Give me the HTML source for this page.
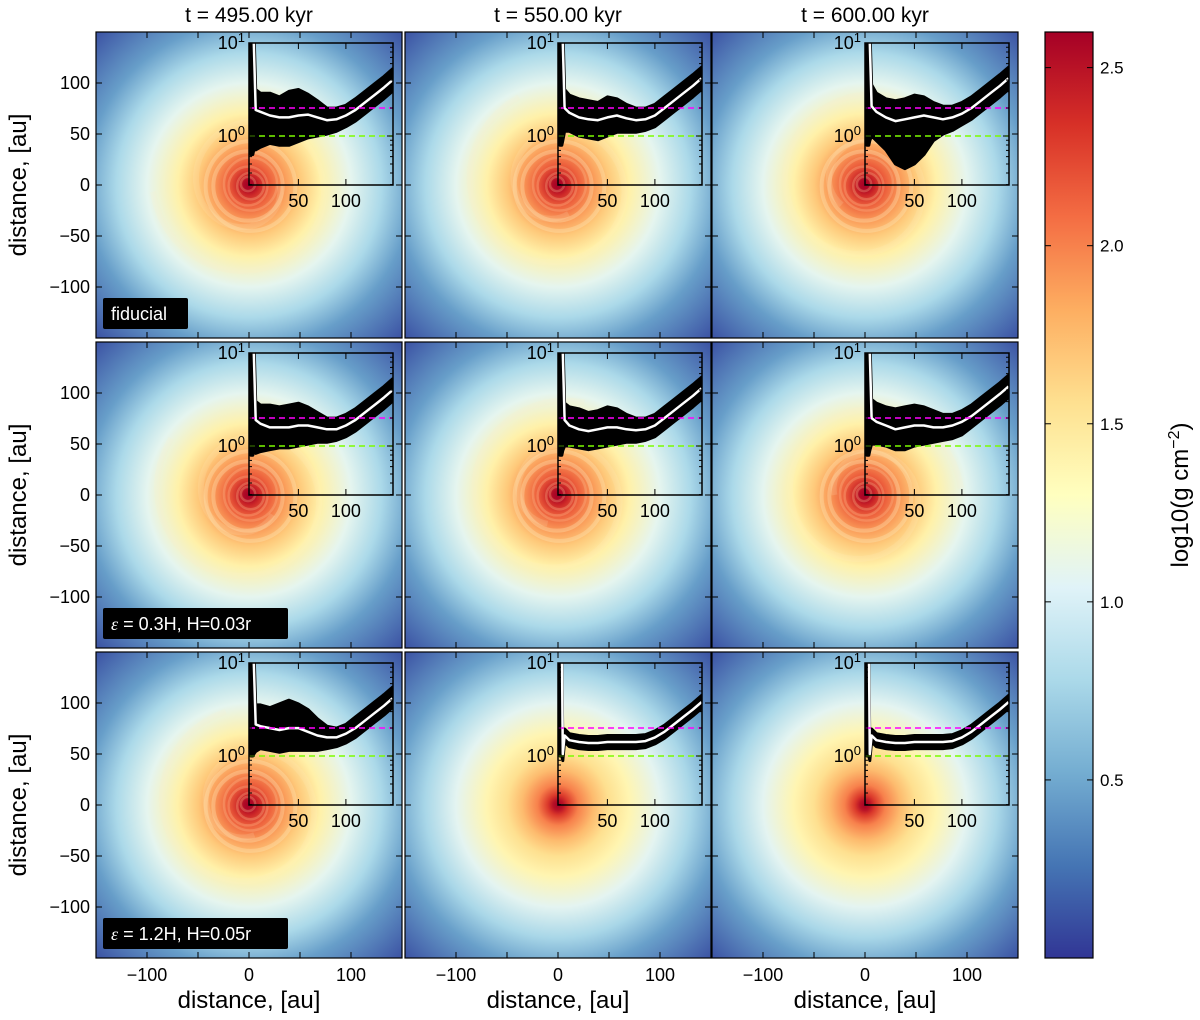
<!DOCTYPE html>
<html><head><meta charset="utf-8">
<style>
html,body{margin:0;padding:0;background:#fff;}
svg{display:block;font-family:"Liberation Sans","DejaVu Sans",sans-serif;}
</style></head>
<body>
<svg id="fig" width="1200" height="1020" viewBox="0 0 1200 1020" xmlns="http://www.w3.org/2000/svg">
<defs id="defs"></defs>
<g id="root"></g>
</svg>
<script>
// ---- data ----
const titles = ["t = 495.00 kyr","t = 550.00 kyr","t = 600.00 kyr"];
const axisTicks = [-100,-50,0,50,100];
const axisTickLabels = ["\u2212100","\u221250","0","50","100"];
const xTickLabelVals = [-100,0,100];
const cbTicks = [0.5,1.0,1.5,2.0,2.5];
const cbMin = 0, cbMax = 2.6;
const insetXTicks = [50,100];
const magentaLevel = Math.log10(2);
const greenLevel = 0;
const panelLabels = ["fiducial","","","\u03b5 = 0.3H, H=0.03r","","","\u03b5 = 1.2H, H=0.05r","",""];
const profR = [0,5,10,20,35,50,70,100,130,160,215];
const profTurb = [2.6,2.55,2.4,2.15,1.9,1.68,1.42,1.08,0.78,0.45,0.1];
const profSmooth = [2.6,2.5,2.3,2.0,1.75,1.56,1.38,1.07,0.77,0.46,0.1];
const rs = [0,2,3,5,10,20,30,40,50,60,70,80,90,100,110,120,130,140,149];
const mean0 = [1.3,1.2,1.0,0.28,0.26,0.22,0.2,0.2,0.22,0.23,0.2,0.17,0.18,0.22,0.28,0.36,0.44,0.52,0.6];
const hi0 = [1.3,1.3,1.2,0.5,0.46,0.46,0.42,0.48,0.5,0.45,0.38,0.3,0.3,0.33,0.4,0.48,0.56,0.64,0.72];
const lo0 = [-0.2,-0.2,-0.15,-0.15,-0.12,-0.08,-0.1,-0.1,-0.06,-0.02,0.0,0.02,0.05,0.1,0.16,0.24,0.32,0.4,0.48];
const mean1 = [1.3,1.2,1.0,0.3,0.25,0.2,0.18,0.17,0.2,0.22,0.19,0.17,0.18,0.22,0.3,0.38,0.46,0.54,0.62];
const hi1 = [1.3,1.3,1.2,0.5,0.44,0.4,0.38,0.36,0.42,0.4,0.34,0.3,0.3,0.34,0.42,0.5,0.58,0.66,0.74];
const lo1 = [-0.1,-0.1,-0.05,0.05,0.05,0.0,-0.02,-0.04,0.0,0.04,0.04,0.04,0.06,0.1,0.18,0.26,0.34,0.42,0.5];
const mean2 = [1.3,1.2,1.0,0.32,0.26,0.2,0.16,0.18,0.2,0.22,0.2,0.18,0.2,0.24,0.3,0.38,0.46,0.54,0.62];
const hi2 = [1.3,1.3,1.2,0.55,0.46,0.4,0.38,0.4,0.44,0.42,0.36,0.32,0.32,0.36,0.42,0.5,0.58,0.66,0.74];
const lo2 = [-0.1,-0.1,-0.05,0.0,-0.05,-0.15,-0.3,-0.35,-0.3,-0.2,-0.05,0.02,0.06,0.12,0.18,0.26,0.34,0.42,0.5];
const mean3 = [1.3,1.2,1.0,0.28,0.24,0.2,0.2,0.2,0.22,0.22,0.2,0.18,0.18,0.22,0.28,0.36,0.44,0.52,0.6];
const hi3 = [1.3,1.3,1.2,0.48,0.44,0.44,0.42,0.44,0.46,0.42,0.36,0.3,0.3,0.34,0.4,0.48,0.56,0.64,0.72];
const lo3 = [-0.1,-0.1,-0.05,-0.08,-0.06,-0.04,-0.02,-0.02,0.0,0.02,0.04,0.04,0.06,0.1,0.16,0.24,0.32,0.4,0.48];
const mean4 = [1.3,1.2,1.0,0.28,0.22,0.18,0.16,0.18,0.2,0.2,0.18,0.17,0.18,0.22,0.3,0.38,0.46,0.54,0.62];
const hi4 = [1.3,1.3,1.2,0.46,0.42,0.4,0.36,0.38,0.42,0.4,0.34,0.3,0.3,0.34,0.42,0.5,0.58,0.66,0.74];
const lo4 = [-0.1,-0.1,-0.05,0.0,0.0,-0.02,-0.04,-0.02,0.0,0.02,0.04,0.04,0.06,0.1,0.18,0.26,0.34,0.42,0.5];
const mean5 = [1.3,1.2,1.0,0.3,0.26,0.22,0.18,0.2,0.22,0.22,0.2,0.2,0.22,0.26,0.32,0.4,0.48,0.56,0.64];
const hi5 = [1.3,1.3,1.2,0.5,0.46,0.42,0.4,0.42,0.44,0.42,0.38,0.34,0.34,0.38,0.44,0.52,0.6,0.68,0.76];
const lo5 = [-0.1,-0.1,-0.05,0.02,0.02,0.0,-0.04,-0.04,0.0,0.02,0.04,0.06,0.08,0.12,0.2,0.28,0.36,0.44,0.52];
const mean6 = [1.3,1.2,1.0,0.34,0.32,0.3,0.28,0.3,0.3,0.26,0.22,0.2,0.2,0.24,0.3,0.38,0.46,0.54,0.62];
const hi6 = [1.3,1.3,1.2,0.55,0.55,0.52,0.56,0.6,0.56,0.5,0.4,0.32,0.3,0.34,0.42,0.5,0.58,0.66,0.74];
const lo6 = [0.0,0.0,0.02,0.05,0.08,0.06,0.04,0.06,0.06,0.06,0.06,0.08,0.1,0.14,0.2,0.28,0.36,0.44,0.52];
const mean7 = [1.3,1.3,0.02,0.22,0.17,0.15,0.14,0.14,0.15,0.15,0.15,0.15,0.16,0.2,0.26,0.34,0.42,0.5,0.58];
const hi7 = [1.3,1.3,0.09,0.29,0.24,0.22,0.21,0.21,0.22,0.22,0.22,0.22,0.23,0.27,0.33,0.41,0.49,0.57,0.65];
const lo7 = [0.0,0.0,-0.05,0.15,0.1,0.08,0.07,0.07,0.08,0.08,0.08,0.08,0.09,0.13,0.19,0.27,0.35,0.43,0.51];
const mean8 = [1.3,1.3,0.02,0.22,0.17,0.15,0.14,0.14,0.15,0.15,0.15,0.15,0.16,0.2,0.26,0.34,0.42,0.5,0.58];
const hi8 = [1.3,1.3,0.09,0.29,0.24,0.22,0.21,0.21,0.22,0.22,0.22,0.22,0.23,0.27,0.33,0.41,0.49,0.57,0.65];
const lo8 = [0.0,0.0,-0.05,0.15,0.1,0.08,0.07,0.07,0.08,0.08,0.08,0.08,0.09,0.13,0.19,0.27,0.35,0.43,0.51];
const means = [mean0,mean1,mean2,mean3,mean4,mean5,mean6,mean7,mean8];
const his = [hi0,hi1,hi2,hi3,hi4,hi5,hi6,hi7,hi8];
const los = [lo0,lo1,lo2,lo3,lo4,lo5,lo6,lo7,lo8];

// ---- helpers ----
const NS = "http://www.w3.org/2000/svg";
const root = document.getElementById('root');
const defs = document.getElementById('defs');
function mk(tag, attrs, parent){const e=document.createElementNS(NS,tag);for(const k in attrs)e.setAttribute(k,attrs[k]);(parent||root).appendChild(e);return e;}
const cmapStops=["#313695","#4575b4","#74add1","#abd9e9","#e0f3f8","#ffffbf","#fee090","#fdae61","#f46d43","#d73027","#a50026"];
function hex(h){return [parseInt(h.slice(1,3),16),parseInt(h.slice(3,5),16),parseInt(h.slice(5,7),16)];}
function cmap(t){t=Math.max(0,Math.min(1,t))*10;const i=Math.min(9,Math.floor(t)),f=t-i;const a=hex(cmapStops[i]),b=hex(cmapStops[i+1]);return "rgb("+a.map((v,k)=>Math.round(v+(b[k]-v)*f)).join(",")+")";}
function val2t(v){return (v-cbMin)/(cbMax-cbMin);}

const colL=[96,405,712], rowT=[32,342,652], PW=306, PH=306;
const pxPerAu = PW/300;

for(let r=0;r<3;r++){
 for(let c=0;c<3;c++){
  const idx=r*3+c, L=colL[c], T=rowT[r];
  const cx=L+PW/2, cy=T+PH/2;
  const smooth = (r===2 && c>0);
  const prof = smooth?profSmooth:profTurb;
  const g=mk('g',{});
  
  
  const cp=mk('clipPath',{id:'clip'+idx},defs);
  mk('rect',{x:L,y:T,width:PW,height:PH},cp);
  const rg=mk('radialGradient',{id:'rg'+idx,gradientUnits:'userSpaceOnUse',cx:cx,cy:cy,r:profR[profR.length-1]*pxPerAu},defs);
  profR.forEach((rr,k)=>{mk('stop',{offset:rr/profR[profR.length-1],'stop-color':cmap(val2t(prof[k]))},rg);});
  const img=mk('g',{'clip-path':'url(#clip'+idx+')'},g);
  const disc=mk('rect',{x:L,y:T,width:PW,height:PH,fill:'url(#rg'+idx+')'},img);
  
  
  if(!smooth){
   [7,13,19,26,34,44].forEach((ra,k)=>{mk('circle',{cx:cx+(k%2?1.5:-1),cy:cy+(k%3?1:-1),r:ra*pxPerAu,fill:'none',stroke:k<4?'#ffc090':'#fff0c0','stroke-width':k<4?2.5:4,opacity:0.3},img);});
   let d='';for(let a=0;a<=540;a+=8){const th=(a+c*70+r*40)*Math.PI/180;const rad=(30+a*0.12)*pxPerAu;d+=(a?'L':'M')+(cx+rad*Math.cos(th)).toFixed(1)+','+(cy+rad*Math.sin(th)).toFixed(1);}
   mk('path',{d:d,fill:'none',stroke:'#fff4c8','stroke-width':6,opacity:0.15},img);
  }
  mk('rect',{x:L,y:T,width:PW,height:PH,fill:'none',stroke:'#000','stroke-width':1.2},g);
  const X=v=>cx+v*pxPerAu, Y=v=>cy-v*pxPerAu;
  axisTicks.forEach(v=>{
   mk('line',{x1:X(v),x2:X(v),y1:T+PH,y2:T+PH-6,stroke:'#000'},g);
   mk('line',{x1:X(v),x2:X(v),y1:T,y2:T+6,stroke:'#000'},g);
   mk('line',{x1:L,x2:L+6,y1:Y(v),y2:Y(v),stroke:'#000'},g);
   mk('line',{x1:L+PW,x2:L+PW-6,y1:Y(v),y2:Y(v),stroke:'#000'},g);
  });
  if(c===0){axisTicks.forEach((v,k)=>{const t=mk('text',{x:L-6,y:Y(v)+6,'text-anchor':'end','font-size':18},g);t.textContent=axisTickLabels[k];
    });}
  if(r===2){xTickLabelVals.forEach(v=>{const t=mk('text',{x:X(v),y:T+PH+23,'text-anchor':'middle','font-size':18},g);t.textContent=axisTickLabels[axisTicks.indexOf(v)];
    });}
  // inset
  const iL=L+153,iR=L+297,iT=T+11,iB=T+153;
  const IX=v=>iL+(v+2)*0.95, IY=v=>iT+(1-v)*93;
  const ig=mk('g',{},g);
  
  
  const icp=mk('clipPath',{id:'iclip'+idx},defs);
  mk('rect',{x:iL,y:iT,width:iR-iL,height:iB-iT},icp);
  const ic=mk('g',{'clip-path':'url(#iclip'+idx+')'},ig);
  let pts=rs.map((rr,k)=>IX(rr).toFixed(1)+','+IY(his[idx][k]).toFixed(1));
  pts=pts.concat(rs.map((rr,k)=>IX(rr).toFixed(1)+','+IY(los[idx][k]).toFixed(1)).reverse());
  const band=mk('polygon',{points:pts.join(' '),fill:'#000',stroke:'#000','stroke-width':3,'stroke-linejoin':'round'},ic);
  
  
  const ml=mk('polyline',{points:rs.map((rr,k)=>IX(rr).toFixed(1)+','+IY(means[idx][k]).toFixed(1)).join(' '),fill:'none',stroke:'#fff','stroke-width':2.5,'stroke-linejoin':'round'},ic);
  
  
  const mg=mk('line',{x1:iL,x2:iR,y1:IY(magentaLevel),y2:IY(magentaLevel),stroke:'#ff00ff','stroke-width':1.5,'stroke-dasharray':'6,4'},ic);
  
  
  const gr=mk('line',{x1:iL,x2:iR,y1:IY(greenLevel),y2:IY(greenLevel),stroke:'#7cfc00','stroke-width':1.5,'stroke-dasharray':'6,4'},ic);
  
  
  mk('rect',{x:iL,y:iT,width:iR-iL,height:iB-iT,fill:'none',stroke:'#000','stroke-width':1.5},ig);
  insetXTicks.forEach(v=>{mk('line',{x1:IX(v),x2:IX(v),y1:iB,y2:iB-6,stroke:'#000'},ig);mk('line',{x1:IX(v),x2:IX(v),y1:iT,y2:iT+6,stroke:'#000'},ig);
    const t=mk('text',{x:IX(v),y:iB+22,'text-anchor':'middle','font-size':18},ig);t.textContent=String(v);
    });
  [1,0].forEach(v=>{mk('line',{x1:iL,x2:iL+6,y1:IY(v),y2:IY(v),stroke:'#000'},ig);mk('line',{x1:iR,x2:iR-6,y1:IY(v),y2:IY(v),stroke:'#000'},ig);
    const t=mk('text',{x:iL-4,y:IY(v)+6,'text-anchor':'end','font-size':18},ig);t.innerHTML='10<tspan dy="-7" font-size="13">'+v+'</tspan>';
    });
  [2,3,4,5,6,7,8,9].forEach(m=>{[0,-1].forEach(dec=>{const lv=dec+Math.log10(m);if(IY(lv)<iB){mk('line',{x1:iL,x2:iL+3,y1:IY(lv),y2:IY(lv),stroke:'#000'},ig);mk('line',{x1:iR,x2:iR-3,y1:IY(lv),y2:IY(lv),stroke:'#000'},ig);}});});
  if(panelLabels[idx]){
   const w=idx===0?85:185;
   const lb=mk('g',{},g);
   
   
   mk('rect',{x:L+7,y:T+PH-40,width:w,height:31,fill:'#000',rx:2},lb);
   const t=mk('text',{x:L+15,y:T+PH-18,'font-size':18,fill:'#fff'},lb);
   if(idx===0)t.textContent=panelLabels[idx];
   else t.innerHTML='<tspan font-style="italic" font-family="Liberation Serif">\u03b5</tspan>'+panelLabels[idx].slice(1);
  }
 }
}
titles.forEach((s,c)=>{const t=mk('text',{x:colL[c]+PW/2,y:22,'text-anchor':'middle','font-size':21});t.textContent=s;
 });
[0,1,2].forEach(c=>{const t=mk('text',{x:colL[c]+PW/2,y:1008,'text-anchor':'middle','font-size':24});t.textContent='distance, [au]';
 });
[0,1,2].forEach(r=>{const yy=rowT[r]+PH/2;const t=mk('text',{x:0,y:0,'text-anchor':'middle','font-size':24,transform:'translate(26,'+yy+') rotate(-90)'});t.textContent='distance, [au]';
 });
const cbX=1045,cbW=48,cbT=32,cbB=958;
const lg=mk('linearGradient',{id:'cbg',x1:0,y1:1,x2:0,y2:0},defs);
for(let k=0;k<=10;k++)mk('stop',{offset:k/10,'stop-color':cmapStops[k]},lg);
const cb=mk('g',{});


mk('rect',{x:cbX,y:cbT,width:cbW,height:cbB-cbT,fill:'url(#cbg)',stroke:'#000','stroke-width':1.2},cb);
const CY=v=>cbB-(v-cbMin)/(cbMax-cbMin)*(cbB-cbT);
cbTicks.forEach(v=>{mk('line',{x1:cbX+cbW,x2:cbX+cbW-6,y1:CY(v),y2:CY(v),stroke:'#000'},cb);mk('line',{x1:cbX,x2:cbX+6,y1:CY(v),y2:CY(v),stroke:'#000'},cb);
 const t=mk('text',{x:cbX+cbW+7,y:CY(v)+6,'font-size':17},cb);t.textContent=v.toFixed(1);
 });
const cl=mk('text',{x:0,y:0,'text-anchor':'middle','font-size':24,transform:'translate(1188,495) rotate(-90)'});
cl.innerHTML='log10(g cm<tspan dy="-9" font-size="16">\u22122</tspan><tspan dy="9">)</tspan>';


</script>
</body></html>
